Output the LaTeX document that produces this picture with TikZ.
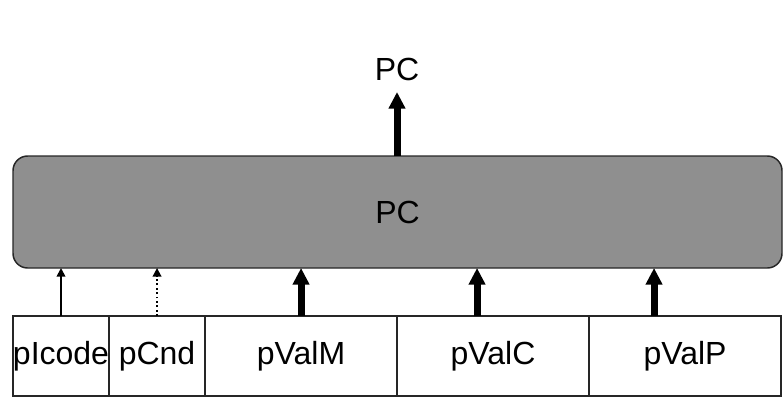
\documentclass[tikz,border=0pt]{standalone}
\usepackage{fontspec}
\setmainfont{Liberation Sans}
\usetikzlibrary{arrows.meta,positioning}
\definecolor{unitgray}{HTML}{8F8F8F}

\begin{document}
\begin{tikzpicture}[x=0.75pt,y=-0.75pt,
font=\fontsize{24}{29}\selectfont]
\tikzstyle{unit}=[draw=black!85,fill=unitgray,line width=1.1pt,rounded corners=11pt,minimum width=576.75pt,minimum height=84pt,outer sep=0pt]
\tikzstyle{field}=[draw=black!85,fill=white,line width=1.1pt,minimum width=72pt,minimum height=60pt,inner sep=0pt,outer sep=0pt]
\tikzstyle{wide field}=[field,minimum width=144pt]
\tikzstyle{ctl}=[-{Triangle[length=6.5pt,width=6.5pt]},line width=1.3pt]
\tikzstyle{bus}=[-{Triangle[length=12.5pt,width=12pt]},line width=5.25pt]

\useasboundingbox (0,0) rectangle (784,396);
\clip (0,0) rectangle (784,396);

\node[unit]         (pc) at (397.5,212) {PC};
\node[field]        (icode) at (61,356) {\raisebox{-3pt}{pIcode}};
\node[field]        (cnd) [right=0pt of icode] {\raisebox{-3pt}{pCnd}};
\node[wide field]   (valm) [right=0pt of cnd] {\raisebox{-3pt}{pValM}};
\node[wide field]   (valc) [right=0pt of valm] {\raisebox{-3pt}{pValC}};
\node[wide field]   (valp) [right=0pt of valc] {\raisebox{-3pt}{pValP}};
\coordinate         (tip) at (397,92);
\node[inner sep=0pt] (out) [above=8pt of tip] {PC};

\draw[ctl] (icode.north) -- (icode.north |- pc.south);
\draw[ctl,dotted] (cnd.north) -- (cnd.north |- pc.south);
\draw[bus] (valm.north) -- (valm.north |- pc.south);
\draw[bus] ([xshift=-12pt]valc.north) -- ([xshift=-12pt]valc.north |- pc.south);
\draw[bus] ([xshift=-23.25pt]valp.north) -- ([xshift=-23.25pt]valp.north |- pc.south);
\draw[bus] (pc.north -| tip) -- (tip);
\end{tikzpicture}
\end{document}
